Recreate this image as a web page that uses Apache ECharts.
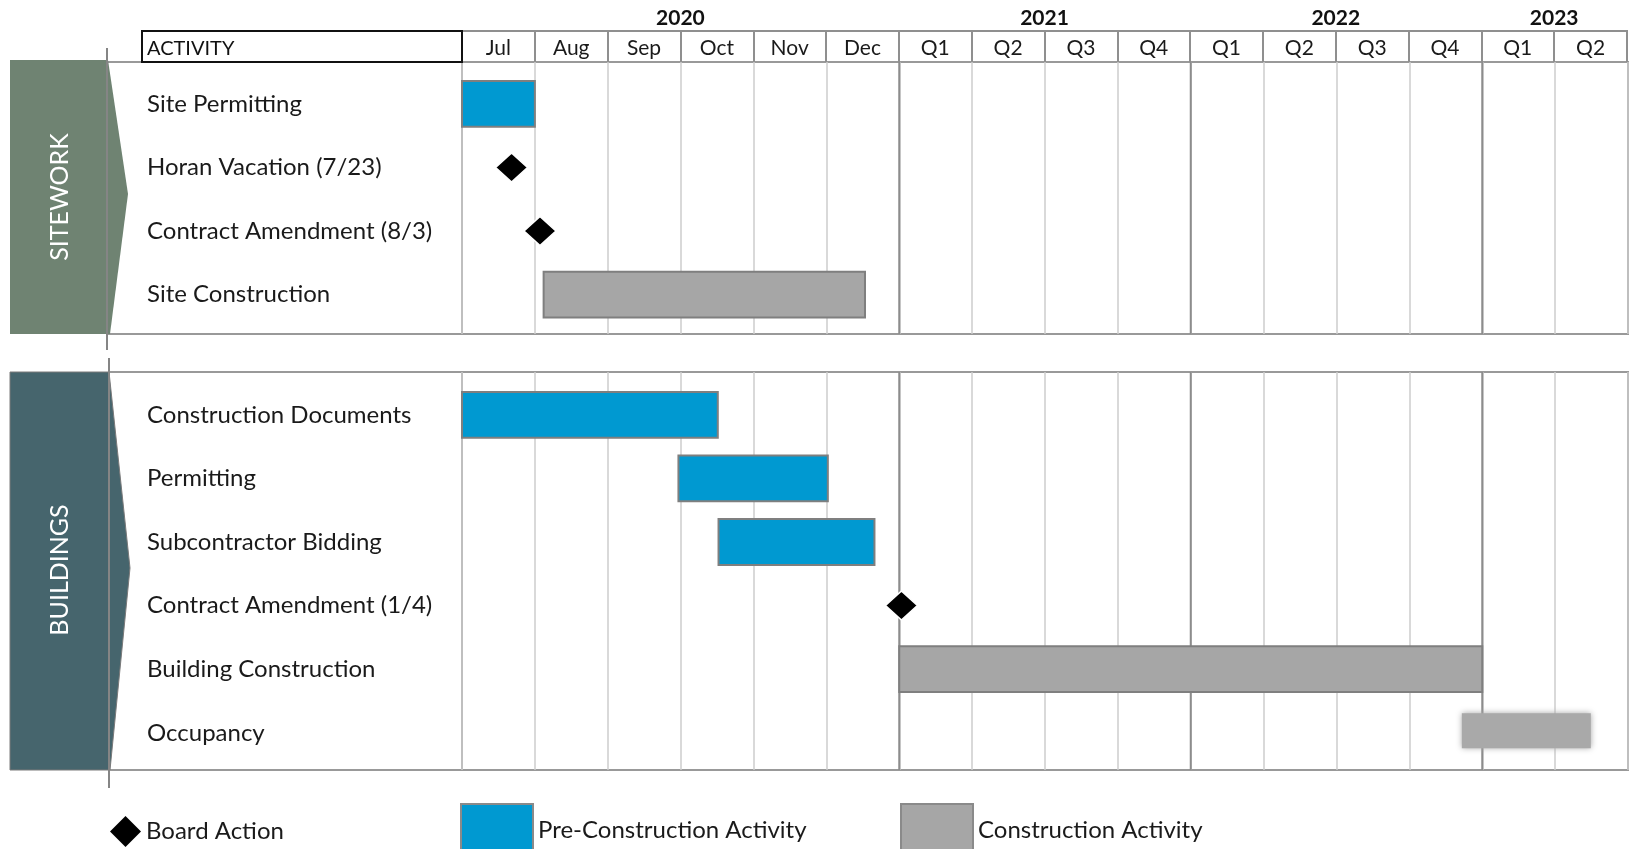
<!DOCTYPE html>
<html>
<head>
<meta charset="utf-8">
<script src="https://cdn.jsdelivr.net/npm/echarts@6/dist/echarts.min.js"></script>
<style>
html,body{margin:0;padding:0;background:#fff;}
#chart{width:1630px;height:849px;}
</style>
</head>
<body>
<div id="chart"></div>
<script>
// ---------- DATA ----------
const periods = ['Jul','Aug','Sep','Oct','Nov','Dec','Q1','Q2','Q3','Q4','Q1','Q2','Q3','Q4','Q1','Q2'];
const years = ['2020','2021','2022','2023'];
const yearStartCol = [0, 6, 10, 14];
const yearEndCol = [6, 10, 14, 16];

const sections = ['SITEWORK', 'BUILDINGS'];
const siteActivities = ['Site Permitting','Horan Vacation (7/23)','Contract Amendment (8/3)','Site Construction'];
const bldgActivities = ['Construction Documents','Permitting','Subcontractor Bidding','Contract Amendment (1/4)','Building Construction','Occupancy'];

// [start column, end column, activity]
const sitePreBars = [[0, 1.0, 'Site Permitting']];
const siteConBars = [[1.12, 5.53, 'Site Construction']];
const siteBoardActions = [[0.68, 'Horan Vacation (7/23)'], [1.07, 'Contract Amendment (8/3)']];

const bldgPreBars = [[0, 3.51, 'Construction Documents'], [2.97, 5.02, 'Permitting'], [3.52, 5.66, 'Subcontractor Bidding']];
const bldgConBars = [[6.0, 14.0, 'Building Construction']];
const bldgOccupancyBars = [[13.72, 15.49, 'Occupancy']];
const bldgBoardActions = [[6.03, 'Contract Amendment (1/4)']];

const legendNames = ['Board Action', 'Pre-Construction Activity', 'Construction Activity'];

// ---------- STYLE ----------
const FONT = 'Lato';
const BLUE = '#0099d1';
const GRAY = '#a6a6a6';
const BORDER = '#7f7f7f';
const nCols = periods.length;

const yearAxisLabels = new Array(nCols + 1).fill('');
years.forEach((y, i) => { yearAxisLabels[(yearStartCol[i] + yearEndCol[i]) / 2] = y; });
const yearLines = yearStartCol.slice(1);

function barRenderer(fill, stroke, blur, frac) {
  return function (params, api) {
    const cat = api.value(2);
    const s = api.coord([api.value(0), cat]);
    const e = api.coord([api.value(1), cat]);
    const h = api.size([0, 1])[1] * frac;
    const off = blur ? -2 : 0;
    const style = { fill: fill };
    if (stroke) { style.stroke = stroke; style.lineWidth = 2; }
    if (blur) { style.shadowBlur = 6; style.shadowColor = fill; }
    return { type: 'rect', shape: { x: s[0], y: s[1] - h / 2 + off, width: e[0] - s[0], height: h }, style: style };
  };
}
function vlineRenderer(params, api) {
  const a = api.coord([api.value(0), 0]);
  const b = api.coord([api.value(0), 1]);
  return { type: 'line', shape: { x1: a[0], y1: a[1], x2: b[0], y2: b[1] }, style: { stroke: '#8c8c8c', lineWidth: 2 } };
}

const L = 462, R = 2;
const grids = [
  { left: L, right: R, top: 31, height: 31, show: true, borderColor: '#8f8f8f', borderWidth: 2 },
  { left: L, right: R, top: 62, height: 272, show: true, borderColor: '#999', borderWidth: 2 },
  { left: L, right: R, top: 72, height: 254.4 },
  { left: L, right: R, top: 372, height: 398, show: true, borderColor: '#999', borderWidth: 2 },
  { left: L, right: R, top: 383, height: 381.6 }
];

function frameCatAxis(gridIndex, color) {
  return {
    type: 'category', gridIndex: gridIndex, data: periods, boundaryGap: true,
    axisLine: { show: false }, axisTick: { show: false }, axisLabel: { show: false },
    splitLine: { show: true, interval: 0, lineStyle: { color: color, width: 1.5 } }
  };
}
function hiddenValueX(gridIndex) {
  return { type: 'value', gridIndex: gridIndex, min: 0, max: nCols, show: false, splitLine: { show: false } };
}
function hiddenValueY(gridIndex) {
  return { type: 'value', gridIndex: gridIndex, min: 0, max: 1, show: false, splitLine: { show: false } };
}
function labelCatY(gridIndex, data) {
  return {
    type: 'category', gridIndex: gridIndex, data: data, inverse: true,
    axisLine: { show: false }, axisTick: { show: false }, splitLine: { show: false },
    axisLabel: { align: 'left', margin: L - 147, fontFamily: FONT, fontSize: 24, color: '#1a1a1a' }
  };
}

const xAxes = [
  {
    type: 'category', gridIndex: 0, data: periods, boundaryGap: true,
    axisLine: { show: false }, axisTick: { show: false },
    axisLabel: { inside: true, margin: 13.5, verticalAlign: 'middle', interval: 0, fontFamily: FONT, fontSize: 21, color: '#1a1a1a' },
    splitLine: { show: true, interval: 0, lineStyle: { color: '#8f8f8f', width: 2 } }
  },
  {
    type: 'category', gridIndex: 0, position: 'top', data: yearAxisLabels, boundaryGap: false,
    axisLine: { show: false }, axisTick: { show: false }, splitLine: { show: false },
    axisLabel: { interval: 0, margin: 12.5, verticalAlign: 'middle', fontFamily: FONT, fontSize: 21, fontWeight: 'bold', color: '#111' }
  },
  frameCatAxis(1, '#cdcdcd'),
  hiddenValueX(1),
  hiddenValueX(2),
  frameCatAxis(3, '#cdcdcd'),
  hiddenValueX(3),
  hiddenValueX(4)
];
const yAxes = [
  hiddenValueY(0),
  hiddenValueY(1),
  labelCatY(2, siteActivities),
  hiddenValueY(3),
  labelCatY(4, bldgActivities)
];

const barEncode = { x: [0, 1], y: 2 };
const diamondStyle = { color: '#000', opacity: 1, borderColor: '#fff', borderWidth: 1.5 };
const series = [
  { type: 'custom', name: 'yearlines-site', xAxisIndex: 3, yAxisIndex: 1, data: yearLines, renderItem: vlineRenderer, encode: { x: 0 }, silent: true, clip: false },
  { type: 'custom', name: 'yearlines-bldg', xAxisIndex: 6, yAxisIndex: 3, data: yearLines, renderItem: vlineRenderer, encode: { x: 0 }, silent: true, clip: false },
  { type: 'custom', name: legendNames[1], xAxisIndex: 4, yAxisIndex: 2, data: sitePreBars, encode: barEncode, renderItem: barRenderer(BLUE, BORDER, false, 0.72), clip: false, itemStyle: { color: BLUE } },
  { type: 'custom', name: legendNames[2], xAxisIndex: 4, yAxisIndex: 2, data: siteConBars, encode: barEncode, renderItem: barRenderer(GRAY, BORDER, false, 0.72), clip: false, itemStyle: { color: GRAY } },
  { type: 'scatter', name: legendNames[0], xAxisIndex: 4, yAxisIndex: 2, data: siteBoardActions, symbol: 'diamond', symbolSize: [32, 29], itemStyle: diamondStyle, clip: false, z: 5 },
  { type: 'custom', name: legendNames[1], xAxisIndex: 7, yAxisIndex: 4, data: bldgPreBars, encode: barEncode, renderItem: barRenderer(BLUE, BORDER, false, 0.72), clip: false, itemStyle: { color: BLUE } },
  { type: 'custom', name: legendNames[2], xAxisIndex: 7, yAxisIndex: 4, data: bldgConBars, encode: barEncode, renderItem: barRenderer(GRAY, BORDER, false, 0.72), clip: false, itemStyle: { color: GRAY } },
  { type: 'custom', name: legendNames[2], xAxisIndex: 7, yAxisIndex: 4, data: bldgOccupancyBars, encode: barEncode, renderItem: barRenderer('#a9a9a9', null, true, 0.55), clip: false, itemStyle: { color: GRAY } },
  { type: 'scatter', name: legendNames[0], xAxisIndex: 7, yAxisIndex: 4, data: bldgBoardActions, symbol: 'diamond', symbolSize: [32, 29], itemStyle: diamondStyle, clip: false, z: 5 }
];

const legendText = { fontFamily: FONT, fontSize: 24, color: '#1a1a1a' };
const legends = [
  { left: 110, top: 816, padding: 0, itemWidth: 31, itemHeight: 31, selectedMode: false, textStyle: legendText,
    data: [{ name: legendNames[0], icon: 'diamond', itemStyle: { color: '#000', opacity: 1, borderWidth: 0 } }] },
  { left: 460, top: 803, padding: 0, itemWidth: 72, itemHeight: 53, selectedMode: false, textStyle: legendText,
    data: [{ name: legendNames[1], icon: 'rect', itemStyle: { color: BLUE, opacity: 1, borderColor: '#8a8a8a', borderWidth: 2 } }] },
  { left: 900, top: 803, padding: 0, itemWidth: 72, itemHeight: 53, selectedMode: false, textStyle: legendText,
    data: [{ name: legendNames[2], icon: 'rect', itemStyle: { color: GRAY, opacity: 1, borderColor: '#8a8a8a', borderWidth: 2 } }] }
];

const graphics = [
  { type: 'polygon', shape: { points: [[10, 60], [108, 60], [128, 194], [110, 334], [10, 334]] }, style: { fill: '#6f8372' }, z: 1 },
  { type: 'line', shape: { x1: 107, y1: 48, x2: 107, y2: 350 }, style: { stroke: '#858585', lineWidth: 2 }, z: 2 },
  { type: 'text', x: 60, y: 197, rotation: Math.PI / 2, style: { text: sections[0], fill: '#fff', font: '25px ' + FONT, align: 'center', verticalAlign: 'middle' }, z: 3 },
  { type: 'polygon', shape: { points: [[10, 372], [109, 372], [130, 568], [110, 770], [10, 770]] }, style: { fill: '#46656d', stroke: '#7a7a7a', lineWidth: 1 }, z: 1 },
  { type: 'line', shape: { x1: 109, y1: 358, x2: 109, y2: 788 }, style: { stroke: '#858585', lineWidth: 2 }, z: 2 },
  { type: 'text', x: 60, y: 570, rotation: Math.PI / 2, style: { text: sections[1], fill: '#fff', font: '25px ' + FONT, align: 'center', verticalAlign: 'middle' }, z: 3 },
  { type: 'line', shape: { x1: 107, y1: 62, x2: L, y2: 62 }, style: { stroke: '#999', lineWidth: 2 }, z: 0 },
  { type: 'line', shape: { x1: 107, y1: 334, x2: L, y2: 334 }, style: { stroke: '#999', lineWidth: 2 }, z: 0 },
  { type: 'line', shape: { x1: 109, y1: 372, x2: L, y2: 372 }, style: { stroke: '#999', lineWidth: 2 }, z: 0 },
  { type: 'line', shape: { x1: 109, y1: 770, x2: L, y2: 770 }, style: { stroke: '#999', lineWidth: 2 }, z: 0 },
  { type: 'rect', shape: { x: 142, y: 31, width: L - 142, height: 31 }, style: { fill: 'none', stroke: '#111', lineWidth: 2 }, z: 4 },
  { type: 'text', x: 147, y: 48.5, style: { text: 'ACTIVITY', fill: '#111', font: '20px ' + FONT, verticalAlign: 'middle' }, z: 4 }
];

const chart = echarts.init(document.getElementById('chart'), null, { renderer: 'canvas' });
chart.setOption({
  animation: false,
  backgroundColor: '#fff',
  grid: grids,
  xAxis: xAxes,
  yAxis: yAxes,
  legend: legends,
  series: series,
  graphic: graphics
});
</script>
</body>
</html>
